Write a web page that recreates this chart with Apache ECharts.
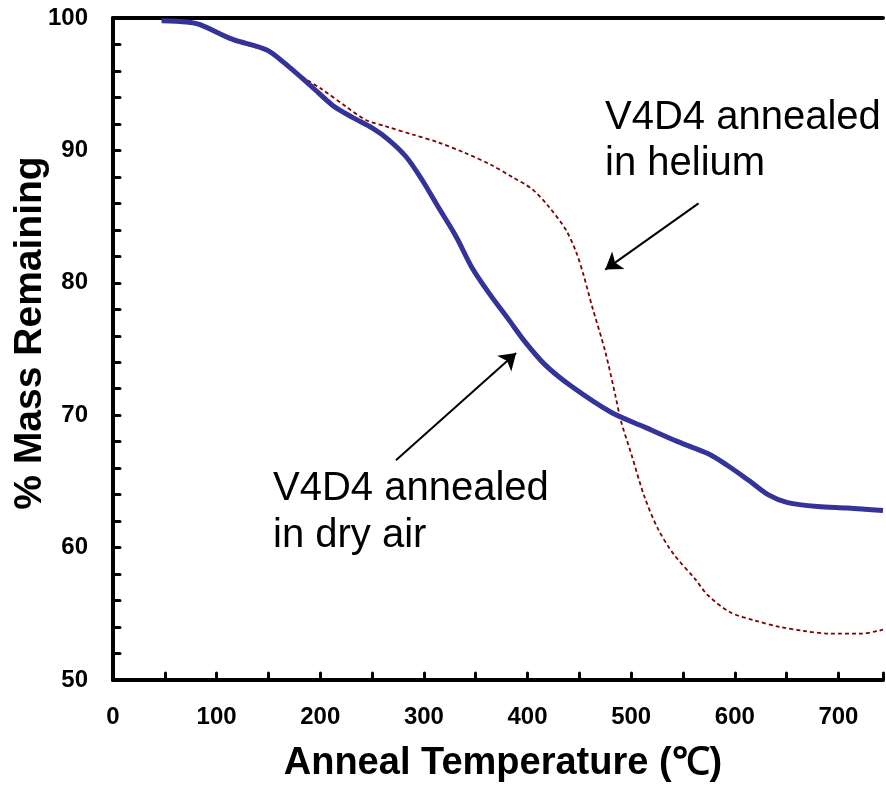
<!DOCTYPE html>
<html>
<head>
<meta charset="utf-8">
<script src="https://cdn.jsdelivr.net/npm/echarts@6/dist/echarts.min.js"></script>
<style>
  html, body { margin: 0; padding: 0; background: #fff; }
  #chart { width: 886px; height: 785px; }
</style>
</head>
<body>
<div id="chart"></div>
<script>
// Thermogravimetric curves: mass remaining (%) vs anneal temperature (°C)
const dryAirTemp = [47, 71, 84, 115, 148, 167, 192, 212, 231, 250, 266, 283, 298, 314, 331, 346, 363, 382, 398, 417, 442, 481, 513, 545, 574, 593, 613, 632, 651, 680, 709, 743];
const dryAirMass = [99.8, 99.7, 99.5, 98.4, 97.6, 96.5, 94.8, 93.4, 92.5, 91.7, 90.8, 89.5, 87.8, 85.7, 83.5, 81.2, 79.2, 77.2, 75.5, 73.8, 72.2, 70.2, 69.1, 68.0, 67.1, 66.2, 65.1, 64.0, 63.4, 63.1, 63.0, 62.8];

const heliumTemp = [47, 71, 84, 115, 148, 167, 180, 202, 225, 244, 264, 289, 314, 340, 365, 385, 404, 420, 437, 447, 454, 462, 475, 485, 490, 500, 513, 526, 541, 562, 574, 596, 619, 644, 667, 692, 721, 738, 743];
const heliumMass = [99.8, 99.7, 99.5, 98.3, 97.5, 96.6, 95.7, 94.6, 93.3, 92.3, 91.8, 91.2, 90.6, 89.8, 88.9, 88.0, 87.1, 85.8, 84.0, 82.3, 80.6, 78.3, 74.8, 71.4, 69.6, 67.1, 63.8, 61.4, 59.5, 57.6, 56.4, 55.1, 54.5, 54.0, 53.7, 53.5, 53.5, 53.7, 53.8];

const xTickLabels = [0, 100, 200, 300, 400, 500, 600, 700];
const yTickLabels = [50, 60, 70, 80, 90, 100];

// Annotation arrows in data coordinates: [from, to]
const heliumArrow = [[565, 86.0], [475, 81.0]];
const dryAirArrow = [[273, 66.6], [389, 74.7]];

const FONT = '"Liberation Sans", Arial, Helvetica, sans-serif';
const X_MIN = 0, X_MAX = 743;

const zip = (xs, ys) => xs.map((x, i) => [x, ys[i]]);

const chart = echarts.init(document.getElementById('chart'), null, { renderer: 'canvas' });

const axisLine = { show: true, lineStyle: { color: '#000', width: 4 } };
const axisTick = { show: true, inside: true, length: 7, lineStyle: { color: '#000', width: 3, cap: 'round' } };
const tickLabel = (list) => ({
  interval: 0, margin: 25, color: '#000',
  fontFamily: FONT, fontWeight: 'bold', fontSize: 24,
  showMaxLabel: true, showMinLabel: true,
  formatter: v => (list.includes(v) ? String(v) : '')
});

chart.setOption({
  animation: false,
  backgroundColor: '#fff',
  grid: { left: 113, top: 18, bottom: 105, right: 0 },
  xAxis: [
    {
      type: 'value', min: X_MIN, max: X_MAX, interval: 50, position: 'bottom',
      axisLine, axisTick, splitLine: { show: false },
      axisLabel: tickLabel(xTickLabels)
    },
    {
      // plain frame line along the top of the plot
      type: 'value', min: X_MIN, max: X_MAX, position: 'top',
      axisLine, axisTick: { show: false }, axisLabel: { show: false }, splitLine: { show: false }
    }
  ],
  yAxis: {
    type: 'value', min: 50, max: 100, interval: 2,
    axisLine, axisTick, splitLine: { show: false },
    axisLabel: tickLabel(yTickLabels)
  },
  series: [
    {
      name: 'V4D4 annealed in helium',
      type: 'line',
      data: zip(heliumTemp, heliumMass),
      showSymbol: false,
      smooth: 0.3,
      lineStyle: { color: '#800000', width: 1.8, type: [4, 3] },
      z: 2,
      markLine: {
        silent: true,
        symbol: ['none', 'arrow'],
        symbolSize: 16,
        label: { show: false },
        lineStyle: { color: '#000', width: 2, type: 'solid' },
        data: [
          [{ coord: heliumArrow[0] }, { coord: heliumArrow[1] }],
          [{ coord: dryAirArrow[0] }, { coord: dryAirArrow[1] }]
        ]
      }
    },
    {
      name: 'V4D4 annealed in dry air',
      type: 'line',
      data: zip(dryAirTemp, dryAirMass),
      showSymbol: false,
      smooth: 0.3,
      lineStyle: { color: '#333399', width: 5 },
      z: 3
    }
  ],
  graphic: [
    {
      type: 'text', x: 503, y: 764,
      style: {
        text: 'Anneal Temperature (\u2103)', fill: '#000',
        font: 'bold 38px ' + FONT, textAlign: 'center', textVerticalAlign: 'middle'
      }
    },
    {
      type: 'text', x: 30, y: 333, rotation: Math.PI / 2,
      style: {
        text: '% Mass Remaining', fill: '#000',
        font: 'bold 39px ' + FONT, textAlign: 'center', textVerticalAlign: 'middle'
      }
    },
    {
      type: 'text', x: 605, y: 118,
      style: { text: 'V4D4 annealed', fill: '#000', font: '40px ' + FONT, textAlign: 'left', textVerticalAlign: 'middle' }
    },
    {
      type: 'text', x: 605, y: 164,
      style: { text: 'in helium', fill: '#000', font: '40px ' + FONT, textAlign: 'left', textVerticalAlign: 'middle' }
    },
    {
      type: 'text', x: 273, y: 489,
      style: { text: 'V4D4 annealed', fill: '#000', font: '40px ' + FONT, textAlign: 'left', textVerticalAlign: 'middle' }
    },
    {
      type: 'text', x: 273, y: 536,
      style: { text: 'in dry air', fill: '#000', font: '40px ' + FONT, textAlign: 'left', textVerticalAlign: 'middle' }
    }
  ]
});
</script>
</body>
</html>
